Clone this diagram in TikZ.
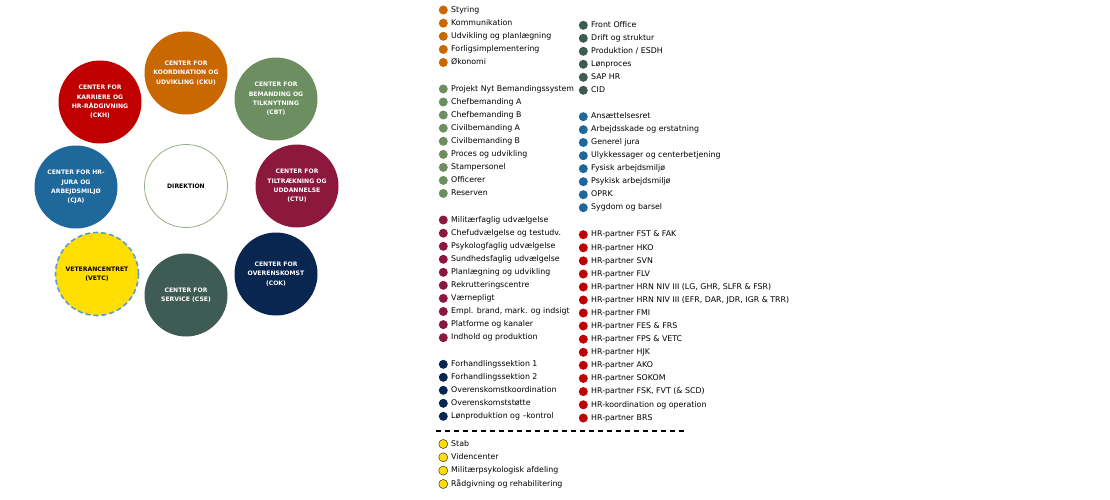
\documentclass[tikz,border=0pt]{standalone}
\usepackage{fontspec}
\setmainfont{DejaVu Sans}
\usepackage{tikz}

\definecolor{ckuC}{RGB}{201,103,0}
\definecolor{ckhC}{RGB}{192,0,0}
\definecolor{cbtC}{RGB}{108,142,96}
\definecolor{cjaC}{RGB}{31,104,156}
\definecolor{ctuC}{RGB}{140,24,62}
\definecolor{vetcC}{RGB}{255,222,0}
\definecolor{cseC}{RGB}{63,92,84}
\definecolor{cokC}{RGB}{8,38,80}
\definecolor{dirC}{RGB}{150,175,135}
\definecolor{vetcLine}{RGB}{91,155,213}

\begin{document}
\begin{tikzpicture}[x=1pt, y=-1pt, label distance=3pt,
    main/.style = {circle, minimum size=83pt, inner sep=0pt, align=center, text=white,
                   font=\fontsize{6.1}{9.3}\selectfont\bfseries},
    legdot/.style = {circle, fill=#1, minimum size=9pt, inner sep=0pt},
    ent/.style = {anchor=west, inner sep=0pt, text height=6pt, text depth=1.6pt,
                  font=\fontsize{7.85}{9}\selectfont, label={[legdot=#1]left:{}}},
    entY/.style = {ent, label={[legdot=vetcC, draw=black!70, line width=0.5pt]left:{}}}]
    \useasboundingbox (0,0) rectangle (1110,500);

    % centre circles
    \node[main, fill=ckuC] (cku)  at (186,73)  {CENTER FOR\\KOORDINATION OG\\UDVIKLING (CKU)};
    \node[main, fill=ckhC] (ckh)  at (100,102) {CENTER FOR\\KARRIERE OG\\HR-RÅDGIVNING\\(CKH)};
    \node[main, fill=cbtC] (cbt)  at (276,99)  {CENTER FOR\\BEMANDING OG\\TILKNYTNING\\(CBT)};
    \node[main, fill=cjaC] (cja)  at (76,187)  {CENTER FOR HR-\\JURA OG\\ARBEJDSMILJØ\\(CJA)};
    \node[main, fill=white, draw=dirC, line width=0.8pt, text=black] (dir) at (186,186) {DIREKTION};
    \node[main, fill=ctuC] (ctu)  at (297,186) {CENTER FOR\\TILTRÆKNING OG\\UDDANNELSE\\(CTU)};
    \node[main, fill=vetcC, draw=vetcLine, line width=1.6pt, dash pattern=on 5pt off 3pt,
          text=black] (vetc) at (97,274) {VETERANCENTRET\\(VETC)};
    \node[main, fill=cseC] (cse)  at (186,295) {CENTER FOR\\SERVICE (CSE)};
    \node[main, fill=cokC] (cok)  at (276,274) {CENTER FOR\\OVERENSKOMST\\(COK)};

    % legend, first column
    \node[ent=ckuC] (cku1) at (451,10)    {Styring};
    \node[ent=ckuC] (cku2) at (451,23.2)  {Kommunikation};
    \node[ent=ckuC] (cku3) at (451,36.3)  {Udvikling og planlægning};
    \node[ent=ckuC] (cku4) at (451,49.4)  {Forligsimplementering};
    \node[ent=ckuC] (cku5) at (451,62.5)  {Økonomi};

    \node[ent=cbtC] (cbt1) at (451,89)    {Projekt Nyt Bemandingssystem};
    \node[ent=cbtC] (cbt2) at (451,102)   {Chefbemanding A};
    \node[ent=cbtC] (cbt3) at (451,115)   {Chefbemanding B};
    \node[ent=cbtC] (cbt4) at (451,128.2) {Civilbemanding A};
    \node[ent=cbtC] (cbt5) at (451,141.3) {Civilbemanding B};
    \node[ent=cbtC] (cbt6) at (451,154.4) {Proces og udvikling};
    \node[ent=cbtC] (cbt7) at (451,167.4) {Stampersonel};
    \node[ent=cbtC] (cbt8) at (451,180.4) {Officerer};
    \node[ent=cbtC] (cbt9) at (451,193.4) {Reserven};

    \node[ent=ctuC] (ctu1)  at (451,220)   {Militærfaglig udvælgelse};
    \node[ent=ctuC] (ctu2)  at (451,233.2) {Chefudvælgelse og testudv.};
    \node[ent=ctuC] (ctu3)  at (451,246.3) {Psykologfaglig udvælgelse};
    \node[ent=ctuC] (ctu4)  at (451,259.3) {Sundhedsfaglig udvælgelse};
    \node[ent=ctuC] (ctu5)  at (451,272.3) {Planlægning og udvikling};
    \node[ent=ctuC] (ctu6)  at (451,285.3) {Rekrutteringscentre};
    \node[ent=ctuC] (ctu7)  at (451,298.4) {Værnepligt};
    \node[ent=ctuC] (ctu8)  at (451,311.5) {Empl. brand, mark. og indsigt};
    \node[ent=ctuC] (ctu9)  at (451,324.6) {Platforme og kanaler};
    \node[ent=ctuC] (ctu10) at (451,337.7) {Indhold og produktion};

    \node[ent=cokC] (cok1) at (451,364.3) {Forhandlingssektion 1};
    \node[ent=cokC] (cok2) at (451,377.3) {Forhandlingssektion 2};
    \node[ent=cokC] (cok3) at (451,390.3) {Overenskomstkoordination};
    \node[ent=cokC] (cok4) at (451,403.3) {Overenskomststøtte};
    \node[ent=cokC] (cok5) at (451,416.3) {Lønproduktion og –kontrol};

    % divider
    \coordinate (divA) at (436,431);
    \coordinate (divB) at (684,431);
    \draw[line width=1.4pt, dash pattern=on 5pt off 4pt] (divA) -- (divB);

    \node[entY] (vetc1) at (451,444)   {Stab};
    \node[entY] (vetc2) at (451,457.3) {Videncenter};
    \node[entY] (vetc3) at (451,470.6) {Militærpsykologisk afdeling};
    \node[entY] (vetc4) at (451,484)   {Rådgivning og rehabilitering};

    % legend, second column
    \node[ent=cseC] (cse1) at (591,25.3) {Front Office};
    \node[ent=cseC] (cse2) at (591,38.3) {Drift og struktur};
    \node[ent=cseC] (cse3) at (591,51.3) {Produktion / ESDH};
    \node[ent=cseC] (cse4) at (591,64.3) {Lønproces};
    \node[ent=cseC] (cse5) at (591,77.3) {SAP HR};
    \node[ent=cseC] (cse6) at (591,90.3) {CID};

    \node[ent=cjaC] (cja1) at (591,116.7) {Ansættelsesret};
    \node[ent=cjaC] (cja2) at (591,129.7) {Arbejdsskade og erstatning};
    \node[ent=cjaC] (cja3) at (591,142.5) {Generel jura};
    \node[ent=cjaC] (cja4) at (591,155.7) {Ulykkessager og centerbetjening};
    \node[ent=cjaC] (cja5) at (591,168.7) {Fysisk arbejdsmiljø};
    \node[ent=cjaC] (cja6) at (591,181.7) {Psykisk arbejdsmiljø};
    \node[ent=cjaC] (cja7) at (591,194.7) {OPRK};
    \node[ent=cjaC] (cja8) at (591,207.7) {Sygdom og barsel};

    \node[ent=ckhC] (ckh1)  at (591,234.7) {HR-partner FST \& FAK};
    \node[ent=ckhC] (ckh2)  at (591,247.8) {HR-partner HKO};
    \node[ent=ckhC] (ckh3)  at (591,260.9) {HR-partner SVN};
    \node[ent=ckhC] (ckh4)  at (591,274)   {HR-partner FLV};
    \node[ent=ckhC] (ckh5)  at (591,287)   {HR-partner HRN NIV III (LG, GHR, SLFR \& FSR)};
    \node[ent=ckhC] (ckh6)  at (591,300)   {HR-partner HRN NIV III (EFR, DAR, JDR, IGR \& TRR)};
    \node[ent=ckhC] (ckh7)  at (591,313)   {HR-partner FMI};
    \node[ent=ckhC] (ckh8)  at (591,326)   {HR-partner FES \& FRS};
    \node[ent=ckhC] (ckh9)  at (591,339.2) {HR-partner FPS \& VETC};
    \node[ent=ckhC] (ckh10) at (591,352.3) {HR-partner HJK};
    \node[ent=ckhC] (ckh11) at (591,365.3) {HR-partner AKO};
    \node[ent=ckhC] (ckh12) at (591,378.4) {HR-partner SOKOM};
    \node[ent=ckhC] (ckh13) at (591,391.6) {HR-partner FSK, FVT (\& SCD)};
    \node[ent=ckhC] (ckh14) at (591,404.8) {HR-koordination og operation};
    \node[ent=ckhC] (ckh15) at (591,418)   {HR-partner BRS};
\end{tikzpicture}
\end{document}
